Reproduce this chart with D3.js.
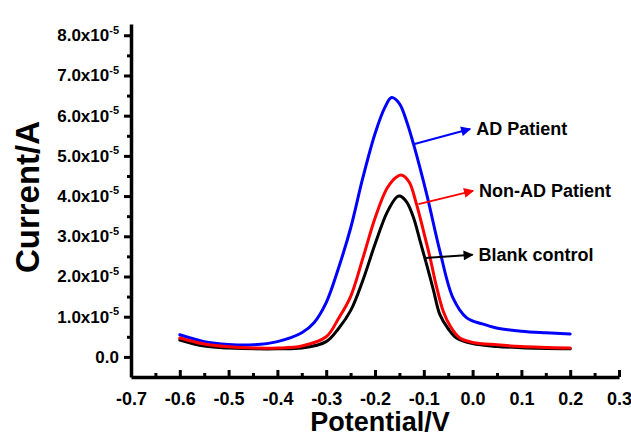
<!DOCTYPE html>
<html>
<head>
<meta charset="utf-8">
<script src="https://cdn.jsdelivr.net/npm/d3@7"></script>
<style>
  html, body { margin: 0; padding: 0; background: #fff; }
  svg { display: block; font-family: "Liberation Sans", Arial, sans-serif; font-weight: bold; }
</style>
</head>
<body>
<div id="chart"></div>
<script>
const W = 631, H = 439;

// current values are in units of 1e-5 A
const adX   = [-0.6, -0.55, -0.5, -0.45, -0.4, -0.35, -0.325, -0.3, -0.275, -0.25, -0.225, -0.2, -0.18, -0.166, -0.15, -0.135, -0.121, -0.094, -0.067, -0.04, -0.012, 0.02, 0.049, 0.1, 0.15, 0.2];
const adY   = [0.55, 0.38, 0.31, 0.30, 0.38, 0.6, 0.85, 1.35, 2.2, 3.2, 4.45, 5.55, 6.2, 6.45, 6.3, 5.85, 5.29, 4.04, 2.63, 1.46, 0.97, 0.82, 0.72, 0.64, 0.60, 0.57];

const nonX  = [-0.6, -0.55, -0.5, -0.45, -0.4, -0.35, -0.3, -0.275, -0.25, -0.225, -0.2, -0.175, -0.155, -0.145, -0.13, -0.115, -0.1, -0.087, -0.075, -0.06, -0.045, -0.026, 0, 0.05, 0.1, 0.2];
const nonY  = [0.47, 0.32, 0.25, 0.22, 0.22, 0.27, 0.5, 0.95, 1.5, 2.45, 3.45, 4.2, 4.48, 4.52, 4.35, 3.8, 3.1, 2.46, 1.8, 1.13, 0.75, 0.47, 0.36, 0.30, 0.26, 0.22];

const blankX = [-0.6, -0.55, -0.5, -0.4, -0.35, -0.3, -0.275, -0.25, -0.225, -0.2, -0.175, -0.155, -0.149, -0.135, -0.121, -0.108, -0.094, -0.08, -0.067, -0.05, -0.033, 0, 0.05, 0.1, 0.2];
const blankY = [0.42, 0.27, 0.22, 0.20, 0.22, 0.38, 0.7, 1.15, 1.9, 2.8, 3.6, 3.98, 4.0, 3.85, 3.46, 2.9, 2.29, 1.65, 1.05, 0.7, 0.47, 0.33, 0.26, 0.23, 0.20];

const xTicks = [-0.7, -0.6, -0.5, -0.4, -0.3, -0.2, -0.1, 0.0, 0.1, 0.2, 0.3];
const yTicks = [0, 1, 2, 3, 4, 5, 6, 7, 8];

// annotation arrows: [fromX, fromY, toX, toY]
const labels = ["AD Patient", "Non-AD Patient", "Blank control"];
const colors = ["#0000ff", "#ff0000", "#000000"];
const arrows = [
  [-0.121, 5.29, -0.005, 5.67],
  [-0.111, 3.80, 0.001, 4.13],
  [-0.098, 2.46, 0.000, 2.54]
];

const svg = d3.select("#chart").append("svg")
  .attr("width", W).attr("height", H);

svg.append("rect").attr("width", W).attr("height", H).attr("fill", "#fff");

const x = d3.scaleLinear().domain([-0.7, 0.3]).range([131, 619]);
const y = d3.scaleLinear().domain([-0.5, 8.28]).range([377, 24]);

// series
const series = [
  {xs: blankX, ys: blankY, color: colors[2]},
  {xs: adX, ys: adY, color: colors[0]},
  {xs: nonX, ys: nonY, color: colors[1]}
];
const line = d3.line().x(d => x(d[0])).y(d => y(d[1])).curve(d3.curveCatmullRom.alpha(0.5));
series.forEach(s => {
  svg.append("path")
    .datum(d3.zip(s.xs, s.ys))
    .attr("d", line)
    .attr("fill", "none")
    .attr("stroke", s.color)
    .attr("stroke-width", 3)
    .attr("stroke-linejoin", "round")
    .attr("stroke-linecap", "round");
});

const font = "Liberation Sans, Arial, sans-serif";

function styleAxis(g) {
  g.selectAll("path").attr("stroke", "#000").attr("stroke-width", 3.5);
  g.selectAll("line").attr("stroke", "#000").attr("stroke-width", 3);
}

// x axis (ticks inward)
const xMinor = d3.range(-0.65, 0.3, 0.1);
svg.append("g")
  .attr("transform", `translate(0,${y(-0.5)})`)
  .call(d3.axisBottom(x).tickValues(xMinor).tickSize(-4).tickFormat(""))
  .call(g => g.select(".domain").remove())
  .call(styleAxis);
const gx = svg.append("g")
  .attr("transform", `translate(0,${y(-0.5)})`)
  .call(d3.axisBottom(x).tickValues(xTicks).tickSizeInner(-7).tickSizeOuter(0).tickPadding(15)
    .tickFormat(d3.format(".1f")))
  .call(styleAxis);
gx.selectAll("text").attr("font-size", 18).attr("font-weight", "bold").attr("fill", "#000")
  .attr("font-family", font).text(d => d3.format(".1f")(d).replace("−", "-"));

// y axis (ticks outward)
const yMinor = d3.range(0.5, 8.2, 1);
svg.append("g")
  .attr("transform", `translate(${x(-0.7)},0)`)
  .call(d3.axisLeft(y).tickValues(yMinor).tickSize(4).tickFormat(""))
  .call(g => g.select(".domain").remove())
  .call(styleAxis);
const gy = svg.append("g")
  .attr("transform", `translate(${x(-0.7)},0)`)
  .call(d3.axisLeft(y).tickValues(yTicks).tickSizeInner(7).tickSizeOuter(0).tickPadding(5))
  .call(styleAxis);
gy.selectAll("text").attr("font-size", 17).attr("font-weight", "bold").attr("fill", "#000")
  .attr("font-family", font)
  .each(function(d) {
    const t = d3.select(this).text(null);
    if (d === 0) { t.text("0.0"); return; }
    t.append("tspan").text(d.toFixed(1) + "x10");
    t.append("tspan").attr("font-size", 11).attr("dy", "-0.7em").text("-5");
  });

// axis titles
svg.append("text")
  .attr("x", 380).attr("y", 431)
  .attr("text-anchor", "middle")
  .attr("font-size", 27)
  .text("Potential/V");
svg.append("text")
  .attr("transform", "translate(39,197) rotate(-90)")
  .attr("text-anchor", "middle")
  .attr("font-size", 33)
  .text("Current/A");

// annotation arrows
const defs = svg.append("defs");
colors.forEach((c, i) => {
  defs.append("marker")
    .attr("id", "arrow" + i)
    .attr("viewBox", "0 0 10 10")
    .attr("refX", 9).attr("refY", 5)
    .attr("markerWidth", 6).attr("markerHeight", 5)
    .attr("markerUnits", "strokeWidth")
    .attr("orient", "auto")
    .append("path").attr("d", "M0,0 L10,5 L0,10 Z").attr("fill", c);
});
arrows.forEach((a, i) => {
  svg.append("line")
    .attr("x1", x(a[0])).attr("y1", y(a[1]))
    .attr("x2", x(a[2])).attr("y2", y(a[3]))
    .attr("stroke", colors[i]).attr("stroke-width", 2)
    .attr("marker-end", `url(#arrow${i})`);
  svg.append("text")
    .attr("x", x(a[2]) + 6).attr("y", y(a[3]))
    .attr("dy", "0.36em")
    .attr("font-size", 18)
    .attr("fill", "#000")
    .text(labels[i]);
});
</script>
</body>
</html>
